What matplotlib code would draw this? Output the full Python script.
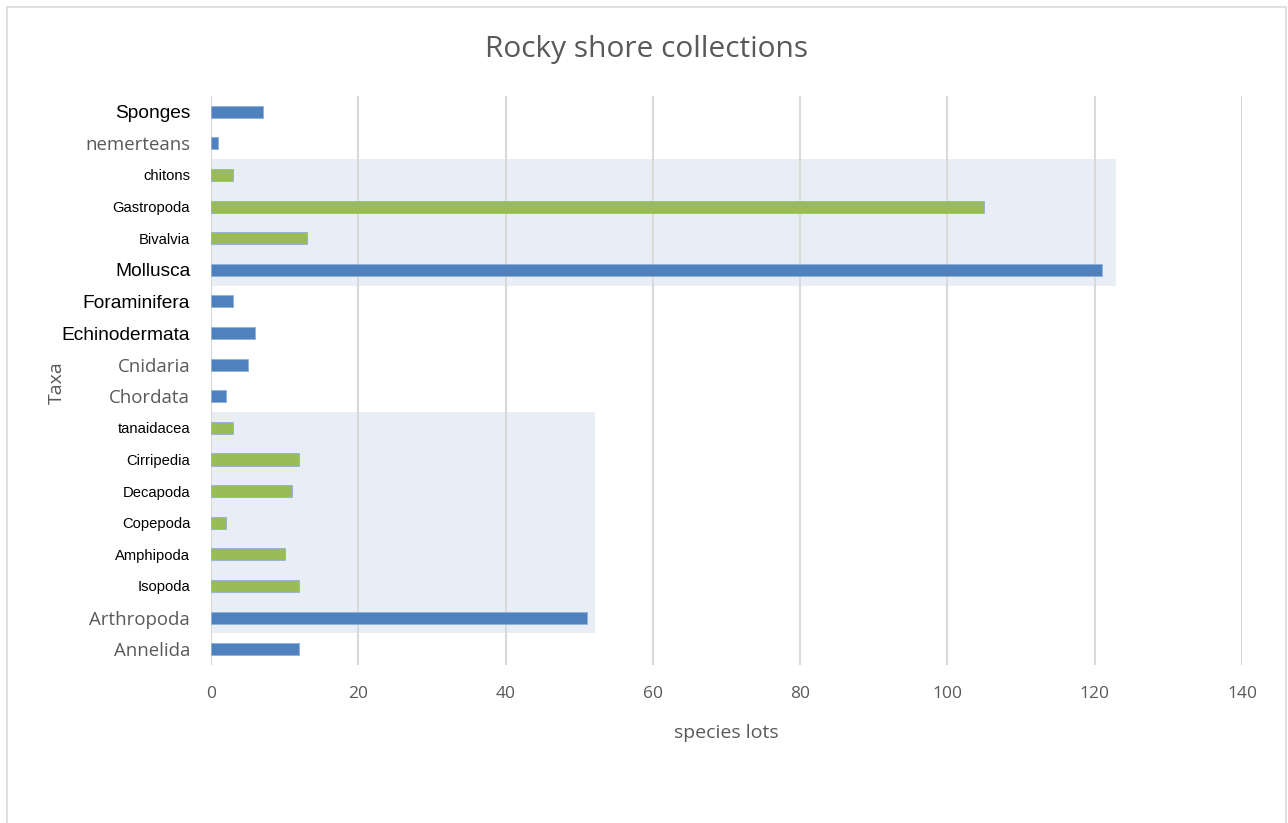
import matplotlib.pyplot as plt
from matplotlib.patches import Rectangle
from matplotlib import font_manager

# taxa listed bottom to top
taxa = ['Annelida', 'Arthropoda', 'Isopoda', 'Amphipoda', 'Copepoda', 'Decapoda',
        'Cirripedia', 'tanaidacea', 'Chordata', 'Cnidaria', 'Echinodermata',
        'Foraminifera', 'Mollusca', 'Bivalvia', 'Gastropoda', 'chitons',
        'nemerteans', 'Sponges']
lots = [12, 51, 12, 10, 2, 11, 12, 3, 2, 5, 6, 3, 121, 13, 105, 3, 1, 7]

# sub-groups shown inside a shaded panel
groups = {
    'Arthropoda': ['Isopoda', 'Amphipoda', 'Copepoda', 'Decapoda', 'Cirripedia', 'tanaidacea'],
    'Mollusca': ['Bivalvia', 'Gastropoda', 'chitons'],
}
panel_right = {'Arthropoda': 52.2, 'Mollusca': 122.9}

black_labels = ['Sponges', 'Mollusca', 'Foraminifera', 'Echinodermata']

installed = {f.name for f in font_manager.fontManager.ttflist}
narrow = 'Liberation Sans Narrow' if 'Liberation Sans Narrow' in installed else 'Open Sans'

blue = '#4F81BD'
green = '#9BBB59'
grey = '#595959'

subtaxa = [t for v in groups.values() for t in v]
colors = [green if t in subtaxa else blue for t in taxa]
ypos = list(range(len(taxa)))

fig = plt.figure(figsize=(12.88, 8.23), dpi=100)
ax = fig.add_axes([0.1638, 0.192, 0.8005, 0.6914])

# shaded panels behind each group
for parent, members in groups.items():
    idx = [taxa.index(t) for t in [parent] + members]
    lo, hi = min(idx) - 0.5, max(idx) + 0.5
    ax.add_patch(Rectangle((0, lo), panel_right[parent], hi - lo,
                           facecolor='#E9EEF6', edgecolor='none', zorder=0))

ax.barh(ypos, lots, height=0.38, color=colors, edgecolor='#8FB0DA',
        linewidth=0.6, zorder=3)

ax.set_xlim(0, 140)
ax.set_ylim(-0.5, len(taxa) - 0.5)
ax.set_xticks(range(0, 141, 20))
ax.set_yticks(ypos)
ax.set_yticklabels(taxa)
ax.grid(axis='x', color='#D9D9D9', linewidth=1.5, zorder=1)
ax.set_axisbelow(True)
for s in ax.spines.values():
    s.set_visible(False)
ax.axvline(0, color='#D9D9D9', linewidth=1.5, zorder=2)
ax.tick_params(length=0)
ax.tick_params(axis='x', pad=15, labelsize=12.5, labelcolor=grey)
ax.tick_params(axis='y', pad=15)

for lab in ax.get_xticklabels():
    lab.set_family(narrow)

for lab in ax.get_yticklabels():
    t = lab.get_text()
    if t in subtaxa:
        lab.set_family('Liberation Sans')
        lab.set_fontsize(10.6)
        lab.set_color('black')
    elif t in black_labels:
        lab.set_family('Liberation Sans')
        lab.set_fontsize(13.8)
        lab.set_color('black')
    else:
        lab.set_family(narrow)
        lab.set_fontsize(13.4)
        lab.set_color(grey)

ax.set_xlabel('species lots', fontsize=14, color=grey, family=narrow, labelpad=16)
ax.set_ylabel('Taxa', fontsize=14, color=grey, family=narrow)
ax.yaxis.set_label_coords(-0.141, 0.4956)
fig.text(0.502, 0.94, 'Rocky shore collections', fontsize=21.5, color=grey,
         family='Open Sans', ha='center', va='center')

# outer chart border
fig.add_artist(Rectangle((7 / 1288, -0.01), 1279 / 1288, 1 - 7 / 823 + 0.01,
                         transform=fig.transFigure, fill=False,
                         edgecolor='#D9D9D9', linewidth=1.2))

fig.savefig('out.png', dpi=100)
